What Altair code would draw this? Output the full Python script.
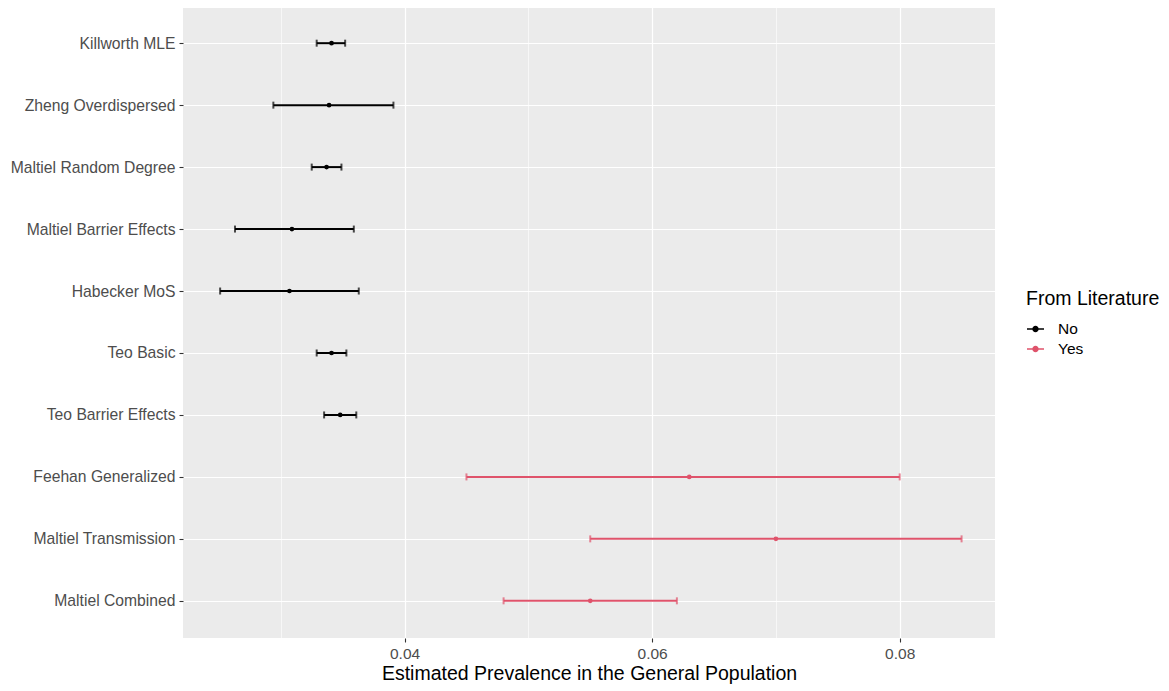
import altair as alt
import pandas as pd

methods = ["Killworth MLE", "Zheng Overdispersed", "Maltiel Random Degree",
           "Maltiel Barrier Effects", "Habecker MoS", "Teo Basic",
           "Teo Barrier Effects", "Feehan Generalized", "Maltiel Transmission",
           "Maltiel Combined"]
estimate = [0.0341, 0.0339, 0.0337, 0.0309, 0.0307, 0.0341, 0.0348, 0.0630, 0.0700, 0.0550]
lower = [0.0329, 0.0294, 0.0325, 0.0263, 0.0251, 0.0329, 0.0335, 0.0450, 0.0550, 0.0480]
upper = [0.0352, 0.0391, 0.0349, 0.0359, 0.0363, 0.0353, 0.0361, 0.0800, 0.0850, 0.0620]
literature = ["No"] * 7 + ["Yes"] * 3

x_ticks = [0.03, 0.04, 0.05, 0.06, 0.07, 0.08]
x_labels = ["0.04", "0.06", "0.08"]

df = pd.DataFrame({"method": methods, "est": estimate, "lo": lower,
                   "hi": upper, "lit": literature})

FONT = "Liberation Sans"
major_test = "indexof(" + str(x_labels).replace("'", '"') + ", format(datum.value, '.2f')) >= 0"

color = alt.Color("lit:N", title="From Literature",
                  scale=alt.Scale(domain=["No", "Yes"], range=["#000000", "#DF536B"]),
                  legend=alt.Legend(orient="none", legendX=843, legendY=284,
                                    symbolType="M-1,0L1,0M-0.28,0A0.28,0.28,0,1,1,0.28,0A0.28,0.28,0,1,1,-0.28,0Z",
                                    symbolSize=289, symbolStrokeWidth=1.6, symbolOpacity=1,
                                    titleFontSize=19.5, titleFont=FONT, titleFontWeight="normal",
                                    titleColor="#000000", labelFontSize=15.5, labelFont=FONT,
                                    labelColor="#000000", titlePadding=10, rowPadding=2,
                                    labelOffset=13))

xscale = alt.Scale(domain=[0.0221, 0.0877], nice=False, zero=False)
xaxis = alt.Axis(values=x_ticks,
                 labelExpr=major_test + " ? format(datum.value, '.2f') : ''",
                 domain=False,
                 tickColor={"condition": {"test": major_test, "value": "#333333"}, "value": "transparent"},
                 tickSize=4, tickWidth=1.1,
                 gridColor="#FFFFFF",
                 gridWidth={"condition": {"test": major_test, "value": 1.2}, "value": 0.6},
                 labelFontSize=15.5, labelFont=FONT, labelColor="#4D4D4D",
                 labelPadding=4, titleFontSize=19.5, titleFont=FONT,
                 titleFontWeight="normal", titleColor="#000000", titlePadding=3)
XTITLE = "Estimated Prevalence in the General Population"

y = alt.Y("method:N", sort=methods, title=None,
          scale=alt.Scale(type="point", padding=0.6),
          axis=alt.Axis(domain=False, tickColor="#333333", tickSize=4, tickWidth=1.1,
                        grid=True, gridColor="#FFFFFF", gridWidth=1.2,
                        labelFontSize=15.7, labelFont=FONT, labelColor="#4D4D4D",
                        labelPadding=4))

base = alt.Chart(df)
rule = base.mark_rule(strokeWidth=2).encode(
    x=alt.X("lo:Q", title=XTITLE, scale=xscale, axis=xaxis), x2="hi:Q", y=y, color=color)
cap_lo = base.mark_tick(orient="vertical", size=7, thickness=2).encode(
    x=alt.X("lo:Q", title=XTITLE, scale=xscale, axis=xaxis), y=y, color=color)
cap_hi = base.mark_tick(orient="vertical", size=7, thickness=2).encode(
    x=alt.X("hi:Q", title=XTITLE, scale=xscale, axis=xaxis), y=y, color=color)
pts = base.mark_point(filled=True, size=22, opacity=1).encode(
    x=alt.X("est:Q", title=XTITLE, scale=xscale, axis=xaxis), y=y, color=color)

chart = alt.layer(rule, cap_lo, cap_hi, pts).properties(
    width=812, height=632,
    background="#FFFFFF",
    autosize=alt.AutoSizeParams(type="none"),
    padding={"left": 175, "top": -2, "right": 166, "bottom": 51},
).configure_view(fill="#EBEBEB", stroke=None)

chart.save("out.html", embed_options={"renderer": "svg", "actions": False})
